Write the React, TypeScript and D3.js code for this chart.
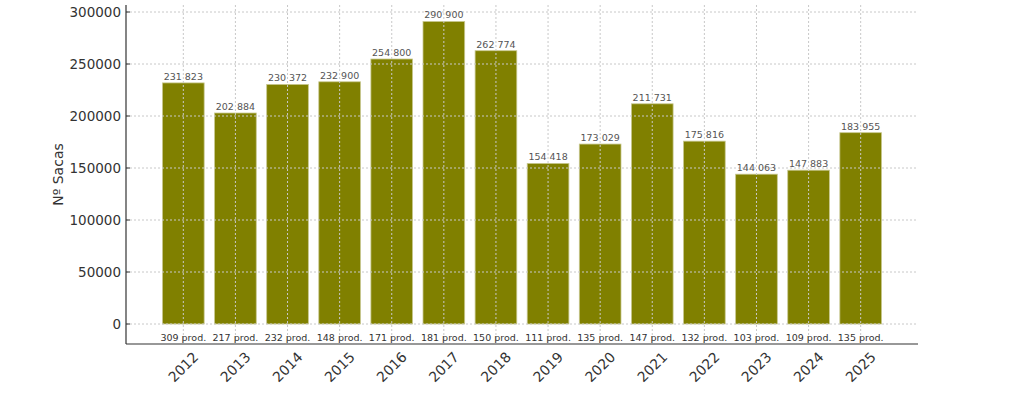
import React, { useEffect, useRef } from "react";
import * as d3 from "d3";

// anos e valores
const years = ["2012", "2013", "2014", "2015", "2016", "2017", "2018", "2019", "2020", "2021", "2022", "2023", "2024", "2025"];
const sacas = [231823, 202884, 230372, 232900, 254800, 290900, 262774, 154418, 173029, 211731, 175816, 144063, 147883, 183955];
const producers = [309, 217, 232, 148, 171, 181, 150, 111, 135, 147, 132, 103, 109, 135];
const yTicks = [0, 50000, 100000, 150000, 200000, 250000, 300000];

const App: React.FC = () => {
  const svgRef = useRef<SVGSVGElement | null>(null);

  useEffect(() => {
    const width = 1024;
    const height = 398;
    const left = 126;
    const right = 918;
    const top = 5;
    const bottom = 344;

    const svg = d3.select(svgRef.current);
    svg.selectAll("*").remove();
    svg
      .attr("width", width)
      .attr("height", height)
      .attr("viewBox", [0, 0, width, height])
      .style("font-family", "'DejaVu Sans', sans-serif")
      .style("display", "block");

    const x = d3
      .scaleBand()
      .domain(years)
      .range([left, right])
      .paddingInner(0.2)
      .paddingOuter(0.7);

    const y = d3.scaleLinear().domain([0, 300000]).range([324, 12]);

    const fmt = (v: number) => d3.format(",")(v).replace(/,/g, " ");

    // barras
    svg
      .append("g")
      .selectAll("rect")
      .data(sacas)
      .join("rect")
      .attr("x", (_, i) => x(years[i]) as number)
      .attr("y", (d) => y(d))
      .attr("width", x.bandwidth())
      .attr("height", (d) => y(0) - y(d))
      .attr("fill", "#808000")
      .attr("stroke", "#c8c890")
      .attr("stroke-width", 0.8);

    // grid por cima das barras
    const grid = svg.append("g").attr("stroke", "#c8c8c8").attr("stroke-dasharray", "2,2").attr("stroke-width", 1);
    grid
      .selectAll("line.h")
      .data(yTicks)
      .join("line")
      .attr("class", "h")
      .attr("x1", left)
      .attr("x2", right)
      .attr("y1", (d) => y(d))
      .attr("y2", (d) => y(d));
    grid
      .selectAll("line.v")
      .data(years)
      .join("line")
      .attr("class", "v")
      .attr("x1", (d) => (x(d) as number) + x.bandwidth() / 2)
      .attr("x2", (d) => (x(d) as number) + x.bandwidth() / 2)
      .attr("y1", top)
      .attr("y2", bottom);

    // rótulos de valores
    svg
      .append("g")
      .selectAll("text")
      .data(sacas)
      .join("text")
      .attr("x", (_, i) => (x(years[i]) as number) + x.bandwidth() / 2)
      .attr("y", (d) => y(d) - 3)
      .attr("text-anchor", "middle")
      .attr("font-size", 9.5)
      .attr("fill", "#555")
      .text((d) => fmt(d));

    // produtores
    svg
      .append("g")
      .selectAll("text")
      .data(producers)
      .join("text")
      .attr("x", (_, i) => (x(years[i]) as number) + x.bandwidth() / 2)
      .attr("y", 341)
      .attr("text-anchor", "middle")
      .attr("font-size", 9.5)
      .attr("fill", "#333")
      .text((d) => `${d} prod.`);

    // eixos
    svg
      .append("line")
      .attr("x1", left)
      .attr("x2", left)
      .attr("y1", top)
      .attr("y2", bottom)
      .attr("stroke", "#333")
      .attr("stroke-width", 1.2);
    svg
      .append("line")
      .attr("x1", left)
      .attr("x2", right)
      .attr("y1", bottom)
      .attr("y2", bottom)
      .attr("stroke", "#333")
      .attr("stroke-width", 1.2);

    const gy = svg.append("g");
    gy.selectAll("line")
      .data(yTicks)
      .join("line")
      .attr("x1", left)
      .attr("x2", left + 4)
      .attr("y1", (d) => y(d))
      .attr("y2", (d) => y(d))
      .attr("stroke", "#333");
    gy.selectAll("text")
      .data(yTicks)
      .join("text")
      .attr("x", left - 5)
      .attr("y", (d) => y(d))
      .attr("dy", "0.35em")
      .attr("text-anchor", "end")
      .attr("font-size", 13.5)
      .attr("fill", "#333")
      .text((d) => String(d));

    svg
      .append("g")
      .selectAll("text")
      .data(years)
      .join("text")
      .attr("transform", (d) => `translate(${(x(d) as number) + x.bandwidth() / 2},367) rotate(-45)`)
      .attr("text-anchor", "middle")
      .attr("dy", "0.35em")
      .attr("font-size", 14)
      .attr("fill", "#333")
      .text((d) => d);

    svg
      .append("text")
      .attr("transform", `translate(58,${(top + bottom) / 2}) rotate(-90)`)
      .attr("text-anchor", "middle")
      .attr("dy", "0.35em")
      .attr("font-size", 14)
      .attr("fill", "#333")
      .text("Nº Sacas");
  }, []);

  return (
    <div style={{ position: "absolute", left: 0, top: 0 }}>
      <svg ref={svgRef}></svg>
    </div>
  );
};

export default App;
